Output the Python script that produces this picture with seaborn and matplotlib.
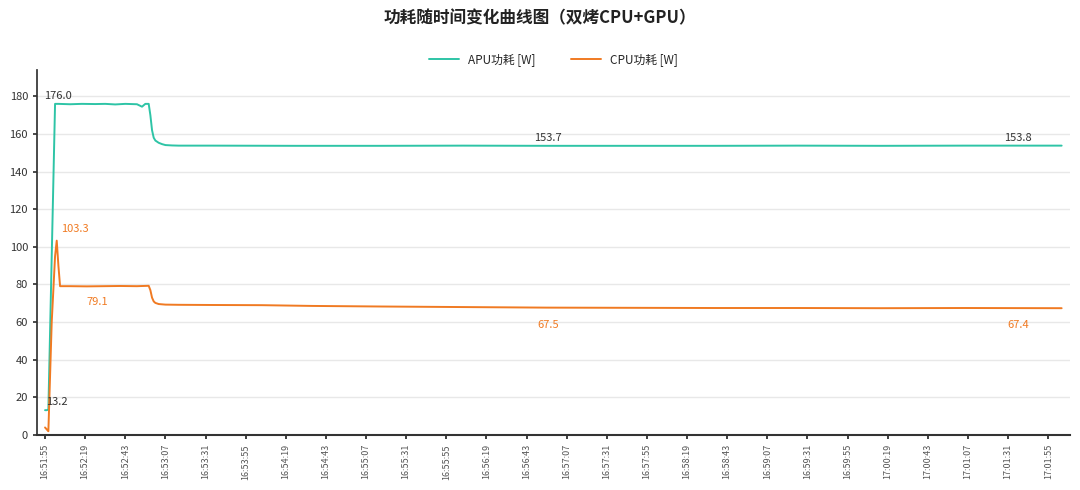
import matplotlib
matplotlib.use("Agg")
import matplotlib.pyplot as plt
import seaborn as sns
import pandas as pd

sns.set_theme(style="white")
plt.rcParams['font.family'] = ['Noto Sans CJK SC', 'DejaVu Sans']

# time in seconds since 16:51:55
t_apu = [0, 1, 2, 6, 8, 15, 22, 30, 36, 42, 48, 55, 58, 60, 62, 63, 64, 65, 66, 68, 70, 72, 76, 80, 100, 150, 200, 250, 300, 350, 400, 450, 500, 550, 608]
apu = [13.2, 13.2, 13.5, 176.0, 176.0, 175.8, 176.0, 175.9, 176.0, 175.7, 176.0, 175.8, 174.5, 176.0, 176.0, 170.0, 162.0, 158.0, 156.5, 155.3, 154.6, 154.1, 153.9, 153.8, 153.8, 153.7, 153.7, 153.8, 153.7, 153.7, 153.7, 153.8, 153.7, 153.8, 153.8]
t_cpu = [0, 1, 2, 4, 6, 7, 8, 9, 15, 25, 35, 45, 55, 62, 63, 64, 65, 66, 68, 72, 80, 100, 130, 160, 200, 250, 300, 350, 400, 450, 500, 550, 608]
cpu = [4.0, 3.0, 2.0, 60.0, 95.0, 103.3, 90.0, 79.1, 79.1, 79.0, 79.1, 79.2, 79.1, 79.3, 77.0, 73.0, 71.0, 70.2, 69.6, 69.3, 69.2, 69.1, 69.0, 68.6, 68.3, 68.0, 67.7, 67.6, 67.5, 67.5, 67.4, 67.5, 67.4]
tick_labels = ["16:51:55", "16:52:19", "16:52:43", "16:53:07", "16:53:31", "16:53:55", "16:54:19", "16:54:43",
               "16:55:07", "16:55:31", "16:55:55", "16:56:19", "16:56:43", "16:57:07", "16:57:31", "16:57:55",
               "16:58:19", "16:58:43", "16:59:07", "16:59:31", "16:59:55", "17:00:19", "17:00:43", "17:01:07",
               "17:01:31", "17:01:55"]
tick_pos = [i * 24 for i in range(len(tick_labels))]

green = "#2ec4a6"
orange = "#f07a22"

df = pd.concat([
    pd.DataFrame({"t": t_apu, "v": apu, "s": "APU功耗 [W]"}),
    pd.DataFrame({"t": t_cpu, "v": cpu, "s": "CPU功耗 [W]"}),
])

fig = plt.figure(figsize=(10.8, 4.9), dpi=100)
ax = fig.add_axes([37/1080, 1-435/490, (1070-37)/1080, (435-70)/490])
sns.lineplot(data=df, x="t", y="v", hue="s", palette=[green, orange], ax=ax, linewidth=1.4, legend=True)

ax.set_xlim(-4.8, 613)
ax.set_ylim(0, 194)
ax.set_yticks(range(0, 181, 20))
ax.set_xticks(tick_pos)
ax.set_xticklabels(tick_labels, rotation=90, fontsize=6.5, color="#555")
ax.tick_params(axis='y', labelsize=8, colors="#333", length=3, left=True)
ax.tick_params(axis='x', length=3, bottom=True)
ax.set_xlabel("")
ax.set_ylabel("")
ax.grid(axis='y', color="#e8e8e8", linewidth=1)
for s in ["top", "right"]:
    ax.spines[s].set_visible(False)
ax.spines["left"].set_color("#333")
ax.spines["bottom"].set_color("#333")
ax.spines["bottom"].set_linewidth(1.5)

leg = ax.legend(loc="upper center", bbox_to_anchor=(0.5, 1.075), ncol=2, frameon=False, fontsize=8.5, handlelength=2.5, columnspacing=3)

kw = dict(fontsize=8, ha="center")
ax.text(8, 178.5, "176.0", color="#333", **kw)
ax.text(7, 16, "13.2", color="#333", **kw)
ax.text(301, 156, "153.7", color="#333", **kw)
ax.text(582, 156, "153.8", color="#333", **kw)
ax.text(18, 108, "103.3", color=orange, **kw)
ax.text(31, 69, "79.1", color=orange, **kw)
ax.text(301, 57, "67.5", color=orange, **kw)
ax.text(582, 57, "67.4", color=orange, **kw)

fig.text(0.5, 1-18/490, "功耗随时间变化曲线图（双烤CPU+GPU）", ha="center", va="center", fontsize=12, fontweight="bold", color="#222")
fig.savefig("out.png", dpi=100)
